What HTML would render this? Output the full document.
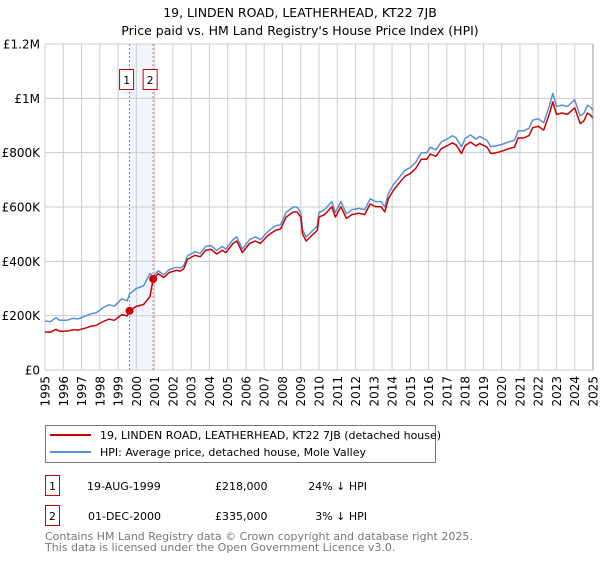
<!DOCTYPE html>
<html><head><meta charset="utf-8"><style>
body{margin:0;background:#fff;width:600px;height:560px;overflow:hidden;font-family:"DejaVu Sans","Liberation Sans",sans-serif;}
svg text{font-family:"DejaVu Sans","Liberation Sans",sans-serif;}
</style></head><body>
<svg id="chart" width="600" height="560">
<text x="300" y="17" text-anchor="middle" font-size="12.5">19, LINDEN ROAD, LEATHERHEAD, KT22 7JB</text>
<text x="300" y="35" text-anchor="middle" font-size="12.5">Price paid vs. HM Land Registry's House Price Index (HPI)</text>
<g id="grid"></g>
<g id="marks"></g>
<g id="axes"></g>
<g>
<rect x="45.5" y="425.5" width="390" height="37" fill="#fff" stroke="#777"/>
<line x1="50" y1="435" x2="91" y2="435" stroke="#cc0000" stroke-width="2"/>
<text x="100" y="439" font-size="11">19, LINDEN ROAD, LEATHERHEAD, KT22 7JB (detached house)</text>
<line x1="50" y1="452" x2="91" y2="452" stroke="#5b8fd4" stroke-width="2"/>
<text x="100" y="456" font-size="11">HPI: Average price, detached house, Mole Valley</text>
</g>
<g>
<rect x="45.5" y="475.5" width="14" height="20" fill="#fff" stroke="#cc0000"/>
<text x="52.5" y="490" font-size="11" text-anchor="middle">1</text>
<text x="87" y="490" font-size="11">19-AUG-1999</text>
<text x="215" y="490" font-size="11">£218,000</text>
<text x="367" y="490" font-size="11" text-anchor="end">24% ↓ HPI</text>
<rect x="45.5" y="505.5" width="14" height="20" fill="#fff" stroke="#cc0000"/>
<text x="52.5" y="520" font-size="11" text-anchor="middle">2</text>
<text x="88" y="520" font-size="11">01-DEC-2000</text>
<text x="215" y="520" font-size="11">£335,000</text>
<text x="367" y="520" font-size="11" text-anchor="end">3% ↓ HPI</text>
</g>
<text x="45" y="540" font-size="11" fill="#777">Contains HM Land Registry data © Crown copyright and database right 2025.</text>
<text x="45" y="551" font-size="11" fill="#777">This data is licensed under the Open Government Licence v3.0.</text>
</svg>
<script>
const years=[1995.0,1995.3,1995.6,1995.8,1996.2,1996.5,1996.8,1997.2,1997.5,1997.8,1998.2,1998.5,1998.8,1999.2,1999.5,1999.63,2000.0,2000.4,2000.75,2000.92,2001.2,2001.5,2001.8,2002.2,2002.4,2002.6,2002.8,2003.2,2003.5,2003.8,2004.1,2004.4,2004.7,2004.9,2005.3,2005.5,2005.8,2006.2,2006.5,2006.8,2007.2,2007.6,2007.9,2008.2,2008.6,2008.8,2009.0,2009.1,2009.3,2009.6,2009.9,2010.0,2010.3,2010.7,2010.9,2011.2,2011.5,2011.8,2012.2,2012.5,2012.8,2013.1,2013.4,2013.6,2013.8,2014.1,2014.4,2014.7,2015.0,2015.3,2015.6,2015.9,2016.1,2016.4,2016.7,2017.0,2017.3,2017.5,2017.8,2018.0,2018.3,2018.6,2018.8,2019.2,2019.4,2019.7,2020.0,2020.4,2020.7,2020.9,2021.2,2021.5,2021.7,2022.0,2022.3,2022.6,2022.8,2023.0,2023.3,2023.6,2024.0,2024.3,2024.5,2024.7,2024.9,2025.0];
const hpi=[180,178,192,183,183,190,188,198,207,210,230,240,235,262,255,280,300,310,355,345,365,350,370,378,375,385,420,435,430,455,458,440,455,445,480,490,445,480,490,480,510,530,535,580,600,600,580,515,490,510,530,580,590,620,580,620,575,590,595,590,630,620,620,600,650,685,710,735,745,765,800,800,820,810,840,850,862,855,822,852,865,850,860,845,822,825,830,840,845,880,880,890,920,925,910,970,1018,970,975,970,995,935,945,975,965,955];
const price=[140,139,150,143,143,148,147,154,161,164,179,187,183,204,199,218,234,241,270,335,354,340,359,367,364,373,407,422,417,441,444,427,441,432,466,475,432,466,475,466,495,514,519,563,582,582,563,500,475,495,514,563,572,601,563,601,558,572,577,572,611,601,601,582,631,664,689,713,723,742,776,776,795,786,815,825,836,829,797,826,839,825,834,820,797,800,805,815,820,854,854,863,892,897,883,941,987,941,946,941,965,907,917,946,936,926];
const saleYears=[1999.63,2000.92];
const salePrices=[218,335];
const yTicks=[0,200,400,600,800,1000,1200];
const yTickLabels=["£0","£200K","£400K","£600K","£800K","£1M","£1.2M"];
const xTicks=[1995,1996,1997,1998,1999,2000,2001,2002,2003,2004,2005,2006,2007,2008,2009,2010,2011,2012,2013,2014,2015,2016,2017,2018,2019,2020,2021,2022,2023,2024,2025];

const NS="http://www.w3.org/2000/svg";
const X0=45,X1=593,Y0=370,Y1=44;
const xs=y=>X0+(y-1995)/30*(X1-X0);
const ys=v=>Y0-v/1200*(Y0-Y1);
function mk(tag,attrs,parent){const e=document.createElementNS(NS,tag);for(const k in attrs)e.setAttribute(k,attrs[k]);parent.appendChild(e);return e;}
const grid=document.getElementById('grid'),marks=document.getElementById('marks'),axes=document.getElementById('axes');
let band=mk('rect',{x:xs(saleYears[0]),y:Y1,width:xs(saleYears[1])-xs(saleYears[0]),height:Y0-Y1,fill:'#eef3fc',opacity:0.8},grid);


xTicks.forEach(t=>{
 let l=mk('line',{x1:xs(t),x2:xs(t),y1:Y1,y2:Y0,stroke:'#cccccc','stroke-width':1},grid);
 
 
 let tx=mk('text',{x:0,y:0,'font-size':12,'text-anchor':'end',transform:`translate(${xs(t)+4.5},376) rotate(-90)`},axes);
 tx.textContent=t;
 
 
});
yTicks.forEach((t,i)=>{
 let l=mk('line',{x1:X0,x2:X1,y1:ys(t),y2:ys(t),stroke:'#cccccc','stroke-width':1},grid);
 
 
 let tx=mk('text',{x:40,y:ys(t)+4.5,'font-size':12,'text-anchor':'end'},axes);
 tx.textContent=yTickLabels[i];
 
 
});
let edge=mk('line',{x1:X1,x2:X1,y1:Y1,y2:Y0,stroke:'#999','stroke-width':1},axes);


saleYears.forEach((s,i)=>{
 let l=mk('line',{x1:xs(s),x2:xs(s),y1:Y1,y2:Y0,stroke:'#e06060','stroke-width':1,'stroke-dasharray':'2,2'},marks);
 
 
 let r=mk('rect',{x:xs(s)-10,y:69.5,width:14,height:20,fill:'#fff',stroke:'#cc0000'},marks);
 
 
 let t=mk('text',{x:xs(s)-3,y:84,'font-size':11,'text-anchor':'middle'},marks);
 t.textContent=String(i+1);
 
 
});
const pts=a=>years.map((y,i)=>xs(y).toFixed(1)+','+ys(a[i]).toFixed(1)).join(' ');
let hl=mk('polyline',{points:pts(hpi),fill:'none',stroke:'#5b8fd4','stroke-width':1.5,'stroke-linejoin':'round'},marks);


let pl=mk('polyline',{points:pts(price),fill:'none',stroke:'#cc0000','stroke-width':1.5,'stroke-linejoin':'round'},marks);


saleYears.forEach((s,i)=>{
 let c=mk('circle',{cx:xs(s),cy:ys(salePrices[i]),r:4,fill:'#cc0000'},marks);
 
 
});
</script>
</body></html>
